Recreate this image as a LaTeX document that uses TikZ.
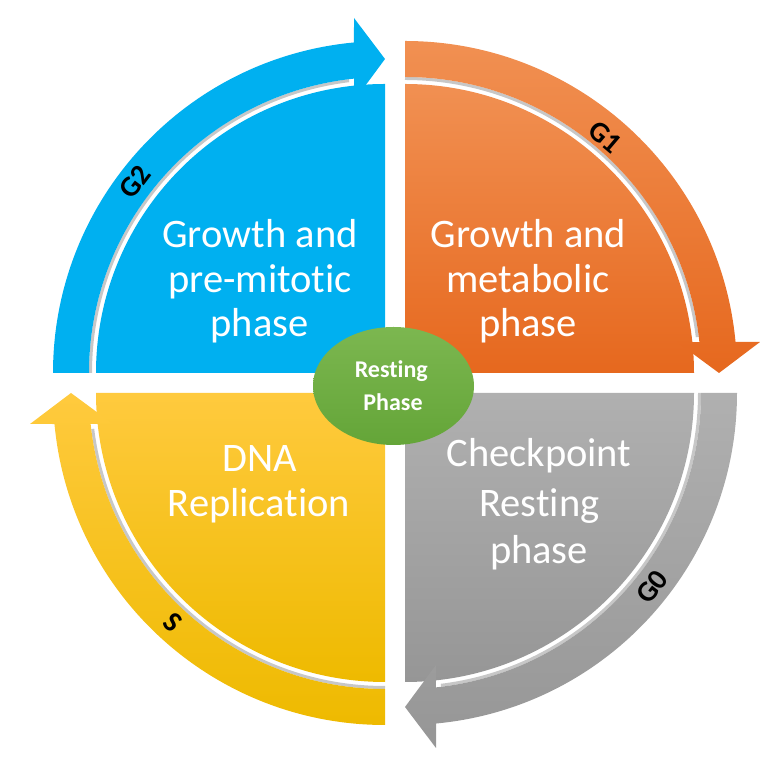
\documentclass[tikz,border=0pt]{standalone}
\usepackage{fontspec}
\setmainfont{Carlito}[Ligatures=NoCommon]
\usetikzlibrary{shapes.geometric}
\begin{document}
\begin{tikzpicture}[x=1pt,y=1pt]
\useasboundingbox (0,0) rectangle (777,757);
\definecolor{cblue}{RGB}{0,176,240}
\definecolor{orangetop}{RGB}{241,144,82}
\definecolor{orangebot}{RGB}{230,104,30}
\definecolor{graytop}{RGB}{176,176,176}
\definecolor{graybot}{RGB}{150,150,150}
\definecolor{yellowtop}{RGB}{255,202,62}
\definecolor{yellowbot}{RGB}{238,186,0}
\definecolor{greentop}{RGB}{124,183,80}
\definecolor{greenbot}{RGB}{100,165,56}
\tikzset{
  bigtxt/.style={text=white, font=\fontsize{40.5}{45}\selectfont, anchor=base, inner sep=0pt},
  smalltxt/.style={text=white, font=\bfseries\fontsize{24}{28}\selectfont, anchor=base, inner sep=0pt},
  ringlbl/.style={text=black, font=\bfseries\fontsize{29}{32}\selectfont, inner sep=0pt},
  gapline/.style={draw=black!22, line width=3pt},
}
% ---------------- blue (G2) ----------------
\begin{scope}[shift={(385,384)}]
  \fill[cblue] (0,0) -- (-289,0) arc[start angle=180,end angle=90,radius=289] -- cycle;
  \draw[gapline] (180:294.5) arc[start angle=180,end angle=97,radius=294.5];
  \fill[cblue] (-332,0) arc[start angle=180,end angle=95.36,radius=332]
     -- (-31,355) -- (0,314) -- (-31,272) -- (96.01:296)
     arc[start angle=96.01,end angle=180,radius=296] -- cycle;
\end{scope}
% ---------------- orange (G1) ----------------
\begin{scope}[shift={(405,384)}]
  \shade[top color=orangetop,bottom color=orangebot] (0,0) -- (0,289) arc[start angle=90,end angle=0,radius=289] -- cycle;
  \draw[gapline] (90:294.5) arc[start angle=90,end angle=7,radius=294.5];
  \shade[top color=orangetop,bottom color=orangebot] (0,332) arc[start angle=90,end angle=5.36,radius=332]
     -- (355,31) -- (314,0) -- (272,31) -- (6.01:296)
     arc[start angle=6.01,end angle=90,radius=296] -- cycle;
\end{scope}
% ---------------- gray (G0) ----------------
\begin{scope}[shift={(405,364)}]
  \shade[top color=graytop,bottom color=graybot] (0,0) -- (289,0) arc[start angle=0,end angle=-90,radius=289] -- cycle;
  \draw[gapline] (0:294.5) arc[start angle=0,end angle=-83,radius=294.5];
  \shade[top color=graytop,bottom color=graybot] (332,0) arc[start angle=0,end angle=-84.64,radius=332]
     -- (31,-355) -- (0,-314) -- (31,-272) -- (-83.99:296)
     arc[start angle=-83.99,end angle=0,radius=296] -- cycle;
\end{scope}
% ---------------- yellow (S) ----------------
\begin{scope}[shift={(385,364)}]
  \shade[top color=yellowtop,bottom color=yellowbot] (0,0) -- (0,-289) arc[start angle=-90,end angle=-180,radius=289] -- cycle;
  \draw[gapline] (-90:294.5) arc[start angle=-90,end angle=-173,radius=294.5];
  \shade[top color=yellowtop,bottom color=yellowbot] (0,-332) arc[start angle=-90,end angle=-174.64,radius=332]
     -- (-355,-31) -- (-314,0) -- (-272,-31) -- (-173.99:296)
     arc[start angle=-173.99,end angle=-90,radius=296] -- cycle;
\end{scope}
% ---------------- quadrant texts ----------------
\node[bigtxt] (b1) at (260,509) {Growth and};
\node[bigtxt] (b2) at (260,464) {pre-mitotic};
\node[bigtxt] (b3) at (259.5,420) {phase};
\node[bigtxt] (o1) at (528.5,509) {Growth and};
\node[bigtxt] (o2) at (528,464) {metabolic};
\node[bigtxt] (o3) at (528,420) {phase};
\node[bigtxt] (g1) at (539,290) {Checkpoint};
\node[bigtxt] (g2) at (539.5,240) {Resting};
\node[bigtxt] (g3) at (539,193) {phase};
\node[bigtxt] (y1) at (260,285) {DNA};
\node[bigtxt] (y2) at (259,240) {Replication};
% ---------------- ring labels ----------------
\node[ringlbl, rotate=52.6] (lg2) at (135,575) {G2};
\node[ringlbl, rotate=-40.3] (lg1) at (605,620) {G1};
\node[ringlbl, rotate=52] (lg0) at (652,170) {G0};
\node[ringlbl, rotate=-43] (ls) at (173,135) {S};
% ---------------- centre ellipse ----------------
\node[ellipse, top color=greentop, bottom color=greenbot, minimum width=161pt, minimum height=118pt, inner sep=0pt] (rest) at (393.5,371) {};
\node[smalltxt] (r1) at (391.3,379) {Resting};
\node[smalltxt] (r2) at (393,346) {Phase};
\end{tikzpicture}
\end{document}
